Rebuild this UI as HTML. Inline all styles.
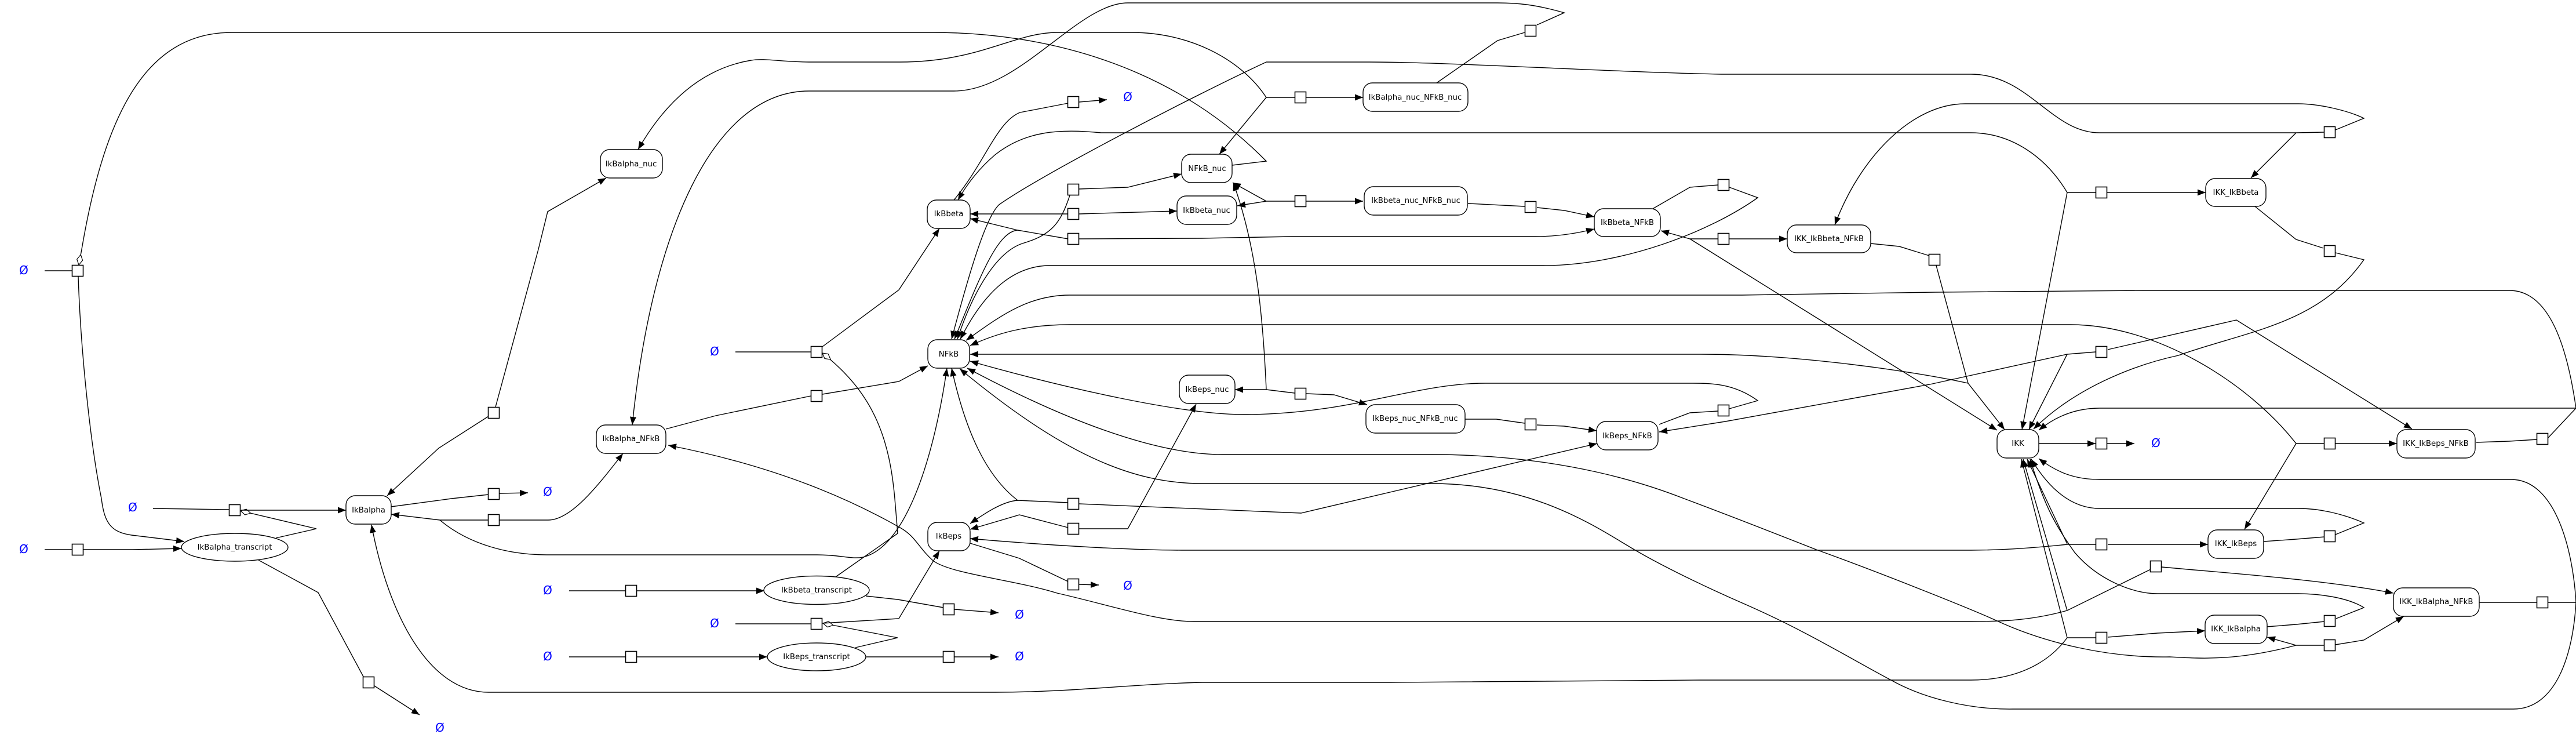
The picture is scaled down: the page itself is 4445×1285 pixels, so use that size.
<!DOCTYPE html>
<html><head><meta charset="utf-8"><title>NFkB network</title>
<style>
html,body{margin:0;padding:0;background:#fff}
svg{display:block}
.e{fill:none;stroke:#000;stroke-width:1.4}
.n{fill:#fff;stroke:#000;stroke-width:1.4}
.s{fill:#fff;stroke:#000;stroke-width:1.6}
text{font-family:"DejaVu Sans","Liberation Sans",sans-serif;font-size:13.33px;text-anchor:middle;fill:#000}
.o{font-size:20px;fill:#00f}
</style></head><body>
<svg xmlns="http://www.w3.org/2000/svg" width="4445" height="1285" viewBox="0 0 4445 1285">
<defs>
<marker id="a" markerUnits="userSpaceOnUse" markerWidth="14" markerHeight="11" refX="14" refY="5.5" orient="auto"><path d="M0 0L14 5.5L0 11z" fill="#000"/></marker>
<marker id="d" markerUnits="userSpaceOnUse" markerWidth="20" markerHeight="12" refX="19" refY="6" orient="auto"><path d="M1 6L10 1L19 6L10 11z" fill="#fff" stroke="#000" stroke-width="1.2"/></marker>
</defs>

<!-- plain connectors -->
<g class="e">
<path d="M77 467H125M77 948H125M264 877L395 879M1269 607H1400M1269 1076H1400M982 1019H1079M982 1133H1079"/>
<path d="M843 853L779 860L675 874"/>
<path d="M1843 1003L1759 963L1674 937"/>
<path d="M1149 740L1235 717L1399 683"/>
<path d="M2533 351L2631 356M2631 730L2582 723H2528M2965 709L2916 712L2863 732"/>
<path d="M3228 420L3277 425L3329 441"/>
<path d="M3891 356L3962 413L4009 428"/>
<path d="M4273 763L4330 761L4378 758M4278 1039H4378"/>
<path d="M3906 934L3962 930L4011 926M3912 1081L3962 1077L4011 1072"/>
<path d="M2852 360L2916 323L2965 319"/>
<path d="M2479 143L2584 70L2631 56"/>
<path d="M1843 178L1760 194C1720 210 1700 280 1646 345"/>
<path d="M446 966L549 1022L627 1167"/>
<path d="M1494 1028L1549 1034L1628 1048M1495 1133H1627"/>
</g>

<!-- modifier connectors with open diamonds -->
<g class="e" marker-end="url(#d)">
<path d="M2126 285L2185 278C2020 110 1800 56 1610 56H400C250 56 180 200 141 430L136 457"/>
<path d="M1442 995L1549 920L1544 860C1535 760 1510 680 1419 609"/>
<path d="M1476 1117L1549 1100L1420 1075"/>
<path d="M476 928L546 912L415 881"/>
</g>

<!-- arrows -->
<g class="e" marker-end="url(#a)">
<path d="M143 948H229L313 946"/>
<path d="M135 477C139 600 155 760 175 860C180 900 190 918 227 923L318 934"/>
<path d="M416 880H597"/>
<path d="M843 718L757 773L668 855"/>
<path d="M862 851L911 850"/>
<path d="M843 897L759 897L675 887"/>
<path d="M759 897C810 940 880 957 943 957H1410C1450 957 1470 965 1489 961C1560 945 1610 800 1634 635"/>
<path d="M862 897H946C985 897 1030 840 1075 782"/>
<path d="M855 702L929 430L945 365L1046 307"/>
<path d="M646 1183L724 1233"/>
<path d="M1099 1019H1319"/>
<path d="M1099 1133H1324"/>
<path d="M1419 598L1551 500L1621 394"/>
<path d="M1419 680L1551 658L1601 631"/>
<path d="M1419 1075L1551 1067L1621 950"/>
<path d="M1647 1051L1723 1057"/>
<path d="M1647 1133H1723"/>
<path d="M1862 1008L1896 1009"/>
<path d="M1843 910L1759 888L1674 913"/>
<path d="M1862 912H1946L2064 697"/>
<path d="M1843 867L1756 863C1730 865 1700 885 1674 903"/>
<path d="M1756 863C1700 820 1665 740 1642 635"/>
<path d="M1862 869L2245 885L2756 765"/>
<path d="M1862 176L1910 172"/>
<path d="M1862 326L1946 323L2039 300"/>
<path d="M1846 337C1830 385 1815 405 1764 420C1720 435 1680 500 1652 585"/>
<path d="M1843 412L1756 397C1720 400 1690 480 1647 585"/>
<path d="M1756 397L1674 377"/>
<path d="M1862 412L2074 411L2230 408H2649C2680 408 2715 404 2751 395"/>
<path d="M1862 369L2031 364"/>
<path d="M1843 369H1674"/>
<path d="M3616 332H3567C3530 270 3470 229 3401 229H1900C1830 222 1770 225 1717 267C1690 290 1670 315 1653 345"/>
<path d="M3567 332L3489 741"/>
<path d="M3636 332H3806"/>
<path d="M4011 228L3962 229H3623C3540 229 3500 128 3401 128H2970C2800 125 2500 107 2363 107H2185C2050 170 1800 300 1724 353C1700 375 1670 480 1642 585"/>
<path d="M3962 229L3884 307"/>
<path d="M2234 168H2185C2140 100 2050 56 1953 56H1824C1750 56 1690 107 1553 107H1396C1350 107 1320 100 1296 104C1200 120 1140 190 1101 258"/>
<path d="M2185 168L2104 266"/>
<path d="M2254 168H2352"/>
<path d="M2234 347H2185L2127 315"/>
<path d="M2185 347L2135 355"/>
<path d="M2254 347H2352"/>
<path d="M2234 678L2185 672H2131"/>
<path d="M2185 672C2180 560 2170 430 2128 315"/>
<path d="M2254 679L2302 681L2359 698"/>
<path d="M2652 358L2699 363L2751 374"/>
<path d="M2652 733L2699 735L2755 743"/>
<path d="M2984 323L3033 341C2950 400 2800 458 2663 458H1810C1750 459 1700 500 1657 585"/>
<path d="M4397 755L4445 704C4430 600 4400 501 4330 501H3700L3340 504L3006 509H1846C1770 509 1720 550 1667 587"/>
<path d="M4010 765H3962C3880 660 3720 560 3573 560H1846C1770 560 1720 575 1674 596"/>
<path d="M3396 661C3300 640 3100 611 2934 611H1674"/>
<path d="M2984 705L3033 691C2990 660 2950 661 2913 661H2563C2440 661 2330 715 2146 715C2040 715 1840 670 1674 623"/>
<path d="M4011 1113H3962C3860 1140 3800 1136 3744 1133C3640 1135 3530 1110 3444 1070C3400 1050 3250 990 3134 948C3050 915 2960 880 2906 860C2850 838 2700 784 2470 784H2110C1980 784 1810 710 1669 635"/>
<path d="M3962 1113L3912 1099"/>
<path d="M4030 1112L4079 1104L4148 1063"/>
<path d="M4397 1039H4445C4440 1130 4410 1223 4337 1223H3473C3400 1224 3320 1205 3263 1173C3200 1140 3120 1090 3013 1043C2960 1020 2880 983 2820 948C2760 913 2650 834 2470 834H2074C1950 834 1830 780 1656 636"/>
<path d="M4445 1039C4440 950 4410 827 4333 827H3623C3580 827 3550 815 3518 791"/>
<path d="M3618 1100H3567C3530 1150 3470 1173 3401 1173H2934L2399 1177H2074C1950 1180 1850 1194 1717 1194H843C740 1194 670 1060 641 905"/>
<path d="M3567 1100L3488 792"/>
<path d="M3567 938L3498 792"/>
<path d="M3618 939H3567C3510 945 3450 949 3401 949H2039C1950 949 1800 940 1674 929"/>
<path d="M3637 939H3810"/>
<path d="M3711 982L3567 1053C3500 1072 3440 1072 3400 1072H2060C2000 1072 1920 1045 1824 1023C1750 1000 1640 990 1610 967C1585 945 1580 925 1553 910C1500 880 1370 810 1153 768"/>
<path d="M3567 1053L3491 792"/>
<path d="M3637 1099L3723 1092L3805 1088"/>
<path d="M3730 978C3860 990 4010 1000 4130 1023"/>
<path d="M4031 1067L4079 1048C4050 1030 4000 1024 3966 1024H3723C3680 1024 3620 1000 3580 953C3550 910 3530 880 3503 792"/>
<path d="M4030 922L4079 902C4040 885 4000 877 3966 877H3623C3580 877 3540 850 3505 792"/>
<path d="M4030 436L4079 448C4000 560 3880 570 3759 613C3680 630 3580 670 3509 740"/>
<path d="M4445 704H3623C3580 704 3545 720 3518 742"/>
<path d="M3637 603L3859 552L4162 740"/>
<path d="M3616 607L3567 611L3330 663L2977 727L2863 745"/>
<path d="M3567 611L3501 741"/>
<path d="M3341 458L3396 661L3459 741"/>
<path d="M2965 412H2916L2866 398"/>
<path d="M2916 412L3446 742"/>
<path d="M2984 412H3084"/>
<path d="M4030 224L4079 204C4050 190 4000 179 3966 179H3391C3300 179 3210 270 3166 388"/>
<path d="M4030 765H4136"/>
<path d="M3962 765L3873 913"/>
<path d="M3518 765H3616"/>
<path d="M3636 765H3683"/>
<path d="M2652 43L2699 22C2650 8 2620 5 2584 5H1946C1860 5 1760 157 1646 157H1396C1230 157 1125 400 1091 733"/>
</g>

<!-- reaction squares -->
<g class="s">
<rect x="1842.5" y="166.5" width="19" height="19"/><rect x="1842.5" y="317.5" width="19" height="19"/>
<rect x="1842.5" y="359.5" width="19" height="19"/><rect x="1842.5" y="402.5" width="19" height="19"/>
<rect x="2631.5" y="43.5" width="19" height="19"/><rect x="2234.5" y="158.5" width="19" height="19"/>
<rect x="2234.5" y="337.5" width="19" height="19"/><rect x="2631.5" y="347.5" width="19" height="19"/>
<rect x="2964.5" y="309.5" width="19" height="19"/><rect x="2964.5" y="402.5" width="19" height="19"/>
<rect x="4010.5" y="218.5" width="19" height="19"/><rect x="3616.5" y="322.5" width="19" height="19"/>
<rect x="4010.5" y="423.5" width="19" height="19"/><rect x="3328.5" y="438.5" width="19" height="19"/>
<rect x="124.5" y="457.5" width="19" height="19"/><rect x="842.5" y="702.5" width="19" height="19"/>
<rect x="842.5" y="842.5" width="19" height="19"/><rect x="842.5" y="887.5" width="19" height="19"/>
<rect x="1399.5" y="597.5" width="19" height="19"/><rect x="1399.5" y="673.5" width="19" height="19"/>
<rect x="1842.5" y="859.5" width="19" height="19"/><rect x="1842.5" y="902.5" width="19" height="19"/>
<rect x="1842.5" y="998.5" width="19" height="19"/><rect x="1627.5" y="1041.5" width="19" height="19"/>
<rect x="1399.5" y="1066.5" width="19" height="19"/><rect x="1627.5" y="1123.5" width="19" height="19"/>
<rect x="395.5" y="870.5" width="19" height="19"/><rect x="124.5" y="938.5" width="19" height="19"/>
<rect x="626.5" y="1167.5" width="19" height="19"/><rect x="1079.5" y="1009.5" width="19" height="19"/>
<rect x="1079.5" y="1123.5" width="19" height="19"/><rect x="2234.5" y="669.5" width="19" height="19"/>
<rect x="2631.5" y="722.5" width="19" height="19"/><rect x="2964.5" y="698.5" width="19" height="19"/>
<rect x="3616.5" y="597.5" width="19" height="19"/><rect x="3616.5" y="755.5" width="19" height="19"/>
<rect x="4010.5" y="755.5" width="19" height="19"/><rect x="4377.5" y="747.5" width="19" height="19"/>
<rect x="3616.5" y="929.5" width="19" height="19"/><rect x="4010.5" y="915.5" width="19" height="19"/>
<rect x="3710.5" y="967.5" width="19" height="19"/><rect x="4010.5" y="1061.5" width="19" height="19"/>
<rect x="4377.5" y="1029.5" width="19" height="19"/><rect x="3616.5" y="1090.5" width="19" height="19"/>
<rect x="4010.5" y="1103.5" width="19" height="19"/>
</g>

<!-- species nodes -->
<g class="n">
<rect x="1036" y="258" width="107" height="49" rx="16" ry="16"/>
<rect x="2039" y="266" width="87" height="49" rx="16" ry="16"/>
<rect x="2031" y="338" width="103" height="49" rx="16" ry="16"/>
<rect x="1600" y="345" width="74" height="49" rx="16" ry="16"/>
<rect x="2352" y="143" width="181" height="49" rx="16" ry="16"/>
<rect x="2354" y="322" width="178" height="49" rx="16" ry="16"/>
<rect x="2751" y="360" width="114" height="48" rx="16" ry="16"/>
<rect x="3084" y="388" width="144" height="48" rx="16" ry="16"/>
<rect x="3806" y="308" width="104" height="48" rx="16" ry="16"/>
<rect x="1601" y="586" width="72" height="49" rx="16" ry="16"/>
<rect x="2035" y="647" width="96" height="49" rx="16" ry="16"/>
<rect x="1029" y="733" width="120" height="49" rx="16" ry="16"/>
<rect x="2357" y="698" width="171" height="49" rx="16" ry="16"/>
<rect x="2755" y="727" width="106" height="49" rx="16" ry="16"/>
<rect x="3446" y="741" width="72" height="49" rx="16" ry="16"/>
<rect x="4136" y="741" width="135" height="49" rx="16" ry="16"/>
<rect x="597" y="855" width="78" height="49" rx="16" ry="16"/>
<rect x="1601" y="901" width="73" height="49" rx="16" ry="16"/>
<rect x="3810" y="914" width="96" height="49" rx="16" ry="16"/>
<rect x="3805" y="1061" width="107" height="49" rx="16" ry="16"/>
<rect x="4130" y="1014" width="148" height="49" rx="16" ry="16"/>
<ellipse cx="405" cy="944" rx="92" ry="24"/>
<ellipse cx="1409" cy="1018" rx="91" ry="24.5"/>
<ellipse cx="1409" cy="1133" rx="85" ry="24"/>
</g>

<!-- labels -->
<text x="1089" y="287">IkBalpha_nuc</text>
<text x="2083" y="295">NFkB_nuc</text>
<text x="2082" y="367">IkBbeta_nuc</text>
<text x="1637" y="373">IkBbeta</text>
<text x="2442" y="172">IkBalpha_nuc_NFkB_nuc</text>
<text x="2443" y="350">IkBbeta_nuc_NFkB_nuc</text>
<text x="2808" y="388">IkBbeta_NFkB</text>
<text x="3156" y="416">IKK_IkBbeta_NFkB</text>
<text x="3858" y="336">IKK_IkBbeta</text>
<text x="1637" y="615">NFkB</text>
<text x="2083" y="676">IkBeps_nuc</text>
<text x="1089" y="761">IkBalpha_NFkB</text>
<text x="2442" y="726">IkBeps_nuc_NFkB_nuc</text>
<text x="2808" y="756">IkBeps_NFkB</text>
<text x="3482" y="769">IKK</text>
<text x="4203" y="769">IKK_IkBeps_NFkB</text>
<text x="636" y="884">IkBalpha</text>
<text x="405" y="948">IkBalpha_transcript</text>
<text x="1637" y="929">IkBeps</text>
<text x="1409" y="1022">IkBbeta_transcript</text>
<text x="1409" y="1137">IkBeps_transcript</text>
<text x="3858" y="942">IKK_IkBeps</text>
<text x="3858" y="1089">IKK_IkBalpha</text>
<text x="4204" y="1042">IKK_IkBalpha_NFkB</text>

<g>
<text class="o" x="1946" y="174">Ø</text>
<text class="o" x="41" y="473">Ø</text>
<text class="o" x="945" y="855">Ø</text>
<text class="o" x="1233" y="613">Ø</text>
<text class="o" x="3720" y="771">Ø</text>
<text class="o" x="229" y="882">Ø</text>
<text class="o" x="41" y="954">Ø</text>
<text class="o" x="759" y="1262">Ø</text>
<text class="o" x="945" y="1025">Ø</text>
<text class="o" x="945" y="1139">Ø</text>
<text class="o" x="1233" y="1082">Ø</text>
<text class="o" x="1759" y="1067">Ø</text>
<text class="o" x="1946" y="1017">Ø</text>
<text class="o" x="1759" y="1139">Ø</text>
</g>
</svg>
</body></html>
